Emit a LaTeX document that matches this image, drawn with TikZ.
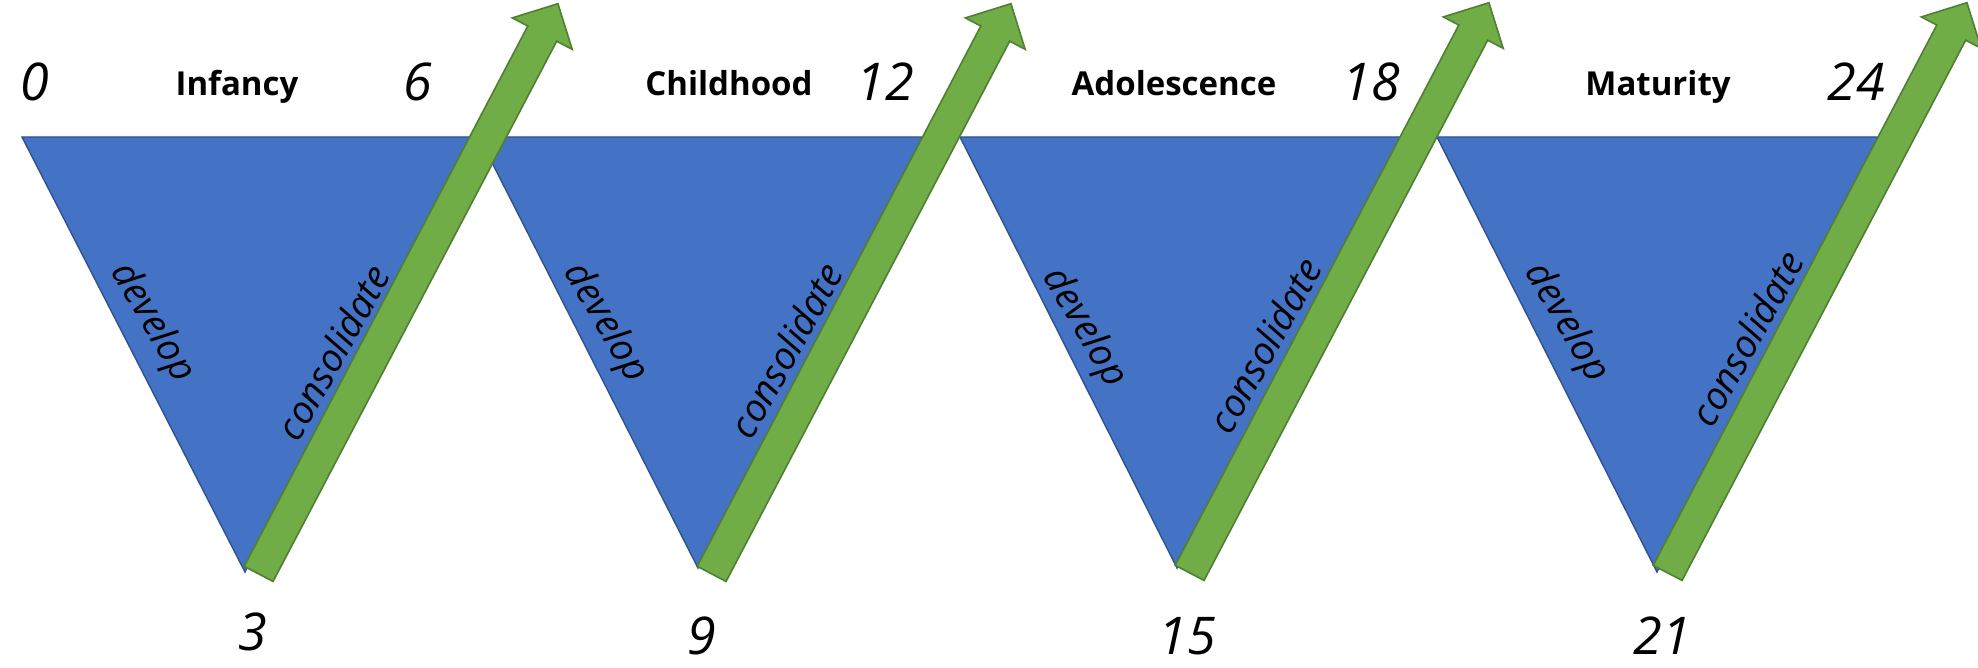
\documentclass[tikz,border=0pt]{standalone}
\usepackage{fontspec}
\setmainfont{Open Sans}
\usepackage{tikz}
\usetikzlibrary{shapes.arrows}
\definecolor{phaseblue}{HTML}{4472C4}
\definecolor{phaseedge}{HTML}{2F528F}
\definecolor{growgreen}{HTML}{70AD47}
\definecolor{growedge}{HTML}{507E32}

\begin{document}
\begin{tikzpicture}[
    x=0.5pt,
    y=-0.5pt,
    phase/.style={
		fill=phaseblue,
		draw=phaseedge,
		line width=0.7pt
	},
	growth/.style={
		single arrow,
		fill=growgreen,
		draw=growedge,
		line width=0.8pt,
		inner xsep=0pt,
		inner ysep=7.75pt,
		minimum height=322pt,
		single arrow head extend=8.75pt,
		single arrow tip angle=90,
		rotate=62.3
	},
	age/.style={
		font=\itshape\fontsize{26}{26}\selectfont,
		anchor=base,
		inner sep=0pt
	},
	stage/.style={
		font=\bfseries\fontsize{16.5}{16.5}\selectfont,
		anchor=base,
		inner sep=0pt
	},
	task/.style={
		font=\itshape\fontsize{19}{19}\selectfont,
		inner sep=0pt
	}
  ]
\useasboundingbox (0,0) rectangle (1978,668);

% // The phases
 \coordinate (top1) at (22,137);
 \coordinate (bot1) at (245,572);
 \coordinate (end1) at (471,137);
 \draw [phase] (top1) -- (bot1) -- (end1) -- cycle;

 \coordinate (top2) at (479,137);
 \coordinate (bot2) at (698,568);
 \coordinate (end2) at (923,137);
 \draw [phase] (top2) -- (bot2) -- (end2) -- cycle;

 \coordinate (top3) at (960,137);
 \coordinate (bot3) at (1177,568);
 \coordinate (end3) at (1402,137);
 \draw [phase] (top3) -- (bot3) -- (end3) -- cycle;

 \coordinate (top4) at (1437,137);
 \coordinate (bot4) at (1657,572);
 \coordinate (end4) at (1880,137);
 \draw [phase] (top4) -- (bot4) -- (end4) -- cycle;

% // The arrows
 \node [growth] (grow1) at (404.5,296) {};
 \node [growth] (grow2) at (857.5,296) {};
 \node [growth] (grow3) at (1335.5,295) {};
 \node [growth] (grow4) at (1813.5,295) {};

% ages
 \node [age] (age0) at (35,101) {0};
 \node [age] (age6) at (418,101) {6};
 \node [age] (age12) at (885,101) {12};
 \node [age] (age18) at (1371,101) {18};
 \node [age] (age24) at (1856,101) {24};
 \node [age] (age3) at (253,650) {3};
 \node [age] (age9) at (702,654) {9};
 \node [age] (age15) at (1187,654) {15};
 \node [age] (age21) at (1662,654) {21};

% stages
 \node [stage] (infancy) at (237,96) {Infancy};
 \node [stage] (childhood) at (729,96) {Childhood};
 \node [stage] (adolescence) at (1174,96) {Adolescence};
 \node [stage] (maturity) at (1658,96) {Maturity};

% develop / consolidate
 \node [task, rotate=-60] (dev1) at (152,323) {develop};
 \node [task, rotate=61] (con1) at (333,352) {consolidate};
 \node [task, rotate=-60] (dev2) at (605,323) {develop};
 \node [task, rotate=61] (con2) at (786,350) {consolidate};
 \node [task, rotate=-60] (dev3) at (1084,328) {develop};
 \node [task, rotate=61] (con3) at (1265,345) {consolidate};
 \node [task, rotate=-60] (dev4) at (1566,323) {develop};
 \node [task, rotate=61] (con4) at (1747,338) {consolidate};

\end{tikzpicture}
\end{document}
